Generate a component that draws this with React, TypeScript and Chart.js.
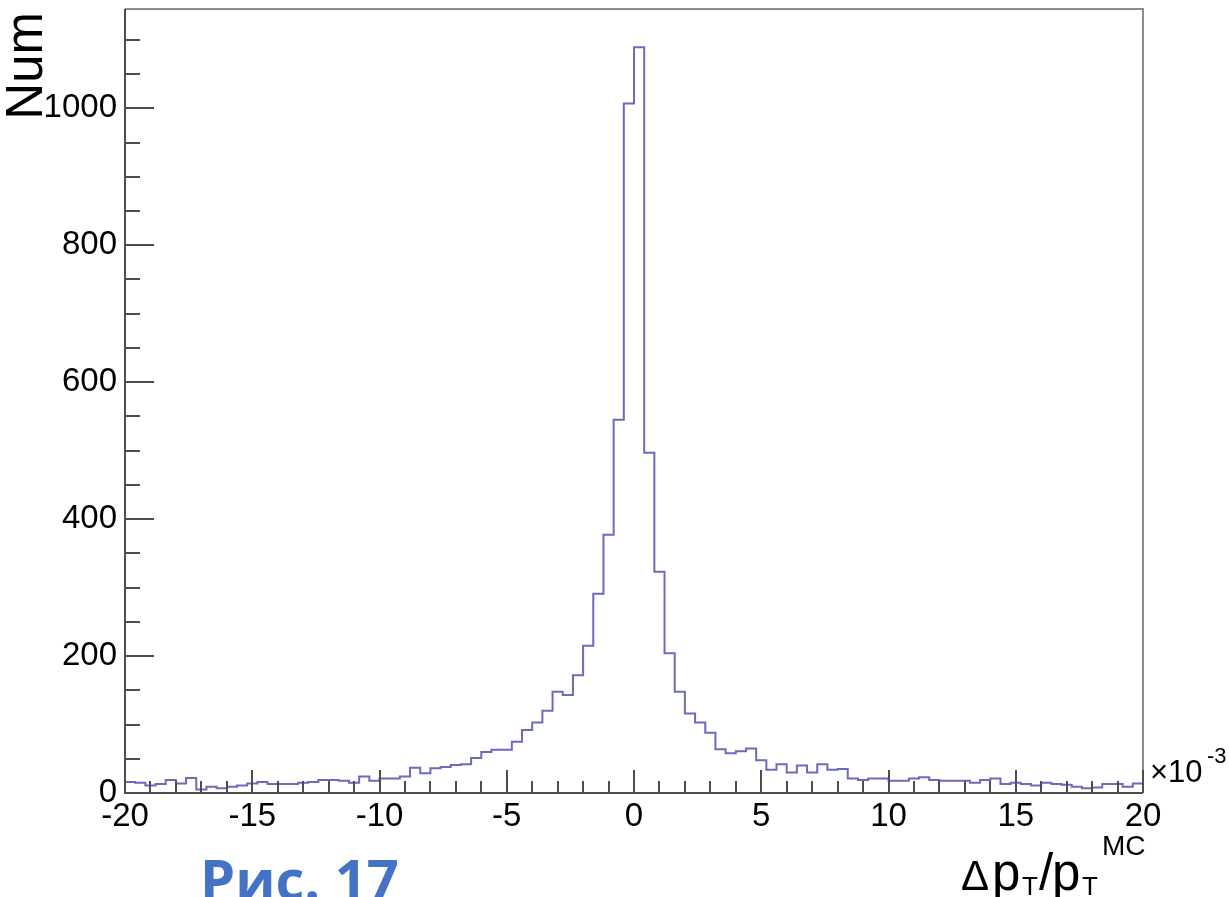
import React, { useEffect, useRef } from 'react';
import { Chart, registerables } from 'chart.js';

Chart.register(...registerables);

// ---- data ----
const X_MIN = -20;
const X_MAX = 20;
const BIN_WIDTH = 0.4;
const Y_MIN = 0;
const Y_MAX = 1145;

const X_TICK_STEP = 5;
const X_MINOR_STEP = 1;
const Y_TICK_STEP = 200;
const Y_MINOR_STEP = 50;

const X_TICK_LABELS = [-20, -15, -10, -5, 0, 5, 10, 15, 20];
const Y_TICK_LABELS = [0, 200, 400, 600, 800, 1000];

// counts per bin (100 bins of width 0.4 from -20 to 20, units 10^-3)
const COUNTS_LEFT_TAIL = [
  16, 15, 11, 13, 19, 14, 22, 5, 9, 7,
  9, 11, 14, 16, 13, 13, 13, 15, 16, 19,
  19, 18, 15, 24, 18, 21, 21, 24, 37, 29,
  36, 38,
];
const COUNTS_CORE = [
  41, 42, 51, 60, 63, 63, 75, 92, 103, 120,
  148, 143, 172, 215, 291, 377, 545, 1007, 1089, 497,
  323, 204, 148, 116, 103, 88, 64, 58, 61, 65,
  48, 34, 42, 30, 40, 30, 42, 34,
];
const COUNTS_RIGHT_TAIL = [
  35, 21, 19, 21, 21, 18, 18, 21, 23, 19,
  18, 18, 18, 15, 19, 21, 13, 15, 13, 11,
  15, 13, 12, 9, 7, 8, 13, 13, 9, 14,
];
const COUNTS = [...COUNTS_LEFT_TAIL, ...COUNTS_CORE, ...COUNTS_RIGHT_TAIL];

const Y_TITLE = 'Num';
const CAPTION = 'Рис. 17';

const FONT = '"Liberation Sans", Arial, Helvetica, sans-serif';

const rootFramePlugin = {
  id: 'rootFrame',
  afterDatasetsDraw(chart: any) {
    const { ctx, chartArea, scales } = chart;
    const { left, right, top, bottom } = chartArea;
    const x = scales.x;
    const y = scales.y;
    ctx.save();
    ctx.lineCap = 'butt';
    // top and right frame
    ctx.strokeStyle = '#8c8c8c';
    ctx.lineWidth = 2;
    ctx.beginPath();
    ctx.moveTo(left, top);
    ctx.lineTo(right, top);
    ctx.lineTo(right, bottom);
    ctx.stroke();
    // axes
    ctx.strokeStyle = '#4d4d4d';
    ctx.beginPath();
    ctx.moveTo(left, top);
    ctx.lineTo(left, bottom);
    ctx.lineTo(right, bottom);
    ctx.stroke();
    // y ticks (inward)
    const nY = Math.floor((Y_MAX - Y_MIN) / Y_MINOR_STEP);
    for (let i = 0; i <= nY; i++) {
      const v = Y_MIN + i * Y_MINOR_STEP;
      const py = Math.round(y.getPixelForValue(v));
      const len = v % Y_TICK_STEP === 0 ? 29 : 15;
      ctx.beginPath();
      ctx.moveTo(left, py);
      ctx.lineTo(left + len, py);
      ctx.stroke();
    }
    // x ticks (inward)
    const nX = Math.round((X_MAX - X_MIN) / X_MINOR_STEP);
    for (let i = 0; i <= nX; i++) {
      const v = X_MIN + i * X_MINOR_STEP;
      const px = Math.round(x.getPixelForValue(v));
      const len = v % X_TICK_STEP === 0 ? 23 : 12;
      ctx.beginPath();
      ctx.moveTo(px, bottom);
      ctx.lineTo(px, bottom - len);
      ctx.stroke();
    }
    ctx.restore();
  },
  afterDraw(chart: any) {
    const { ctx } = chart;
    ctx.save();
    ctx.fillStyle = '#000';
    ctx.textAlign = 'left';
    ctx.textBaseline = 'alphabetic';

    // y axis title, rotated, right-aligned to the top
    ctx.save();
    ctx.translate(42, 12);
    ctx.rotate(-Math.PI / 2);
    ctx.textAlign = 'right';
    ctx.font = `51px ${FONT}`;
    ctx.fillText(Y_TITLE, 0, 0);
    ctx.restore();

    // x axis title: Δ p_T / p_T^MC
    ctx.font = `42px ${FONT}`;
    ctx.fillText('\u0394', 961, 890);
    ctx.font = `51px ${FONT}`;
    ctx.fillText('p', 992, 890);
    ctx.font = `26px ${FONT}`;
    ctx.fillText('T', 1022, 895);
    ctx.font = `51px ${FONT}`;
    ctx.fillText('/', 1039, 890);
    ctx.fillText('p', 1052, 890);
    ctx.font = `26px ${FONT}`;
    ctx.fillText('T', 1082, 895);
    ctx.font = `28px ${FONT}`;
    ctx.fillText('MC', 1102, 855);

    // exponent ×10^-3
    ctx.font = `31px ${FONT}`;
    ctx.fillText('\u00d710', 1150, 782);
    ctx.font = `22px ${FONT}`;
    ctx.fillText('-3', 1207, 763);

    // caption
    ctx.fillStyle = '#4472c4';
    ctx.font = `bold 56px "Open Sans", "Noto Sans", sans-serif`;
    ctx.fillText(CAPTION, 200, 900);
    ctx.restore();
  },
};

export default function App() {
  const canvasRef = useRef<HTMLCanvasElement | null>(null);

  useEffect(() => {
    document.body.style.margin = '0';
    const canvas = canvasRef.current;
    if (!canvas) return;

    const points = COUNTS.map((c, i) => ({ x: X_MIN + i * BIN_WIDTH, y: c }));
    points.push({ x: X_MAX, y: COUNTS[COUNTS.length - 1] });

    const chart = new Chart(canvas, {
      type: 'line',
      data: {
        datasets: [
          {
            data: points,
            stepped: true,
            borderColor: '#6b6bbb',
            borderWidth: 2,
            pointRadius: 0,
            fill: false,
            tension: 0,
          },
        ],
      },
      options: {
        animation: false,
        responsive: false,
        maintainAspectRatio: false,
        layout: { padding: { left: 8, top: 9, right: 86, bottom: 0 } },
        plugins: {
          legend: { display: false },
          tooltip: { enabled: false },
          title: { display: false },
        },
        scales: {
          x: {
            type: 'linear',
            min: X_MIN,
            max: X_MAX,
            grid: { display: false, drawTicks: false },
            border: { display: false },
            ticks: {
              stepSize: X_TICK_STEP,
              autoSkip: false,
              maxRotation: 0,
              padding: 4,
              color: '#000',
              font: { family: FONT, size: 33 },
              callback: (v: any) => (X_TICK_LABELS.includes(Number(v)) ? String(v) : ''),
            },
            afterFit: (s: any) => {
              s.height = 104;
              s.paddingLeft = 0;
              s.paddingRight = 0;
            },
          },
          y: {
            type: 'linear',
            min: Y_MIN,
            max: Y_MAX,
            grid: { display: false, drawTicks: false },
            border: { display: false },
            ticks: {
              stepSize: Y_TICK_STEP,
              autoSkip: false,
              padding: 8,
              color: '#000',
              font: { family: FONT, size: 33 },
              callback: (v: any) => String(v),
            },
            afterBuildTicks: (s: any) => {
              s.ticks = Y_TICK_LABELS.map((v) => ({ value: v }));
            },
            afterFit: (s: any) => {
              s.width = 117;
              s.paddingTop = 0;
              s.paddingBottom = 0;
            },
          },
        },
      },
      plugins: [rootFramePlugin],
    });

    return () => {
      chart.destroy();
    };
  }, []);

  return (
    <div style={{ position: 'relative', width: 1229, height: 897, overflow: 'hidden', background: '#fff' }}>
      <canvas ref={canvasRef} width={1229} height={897} style={{ display: 'block' }} />
    </div>
  );
}
